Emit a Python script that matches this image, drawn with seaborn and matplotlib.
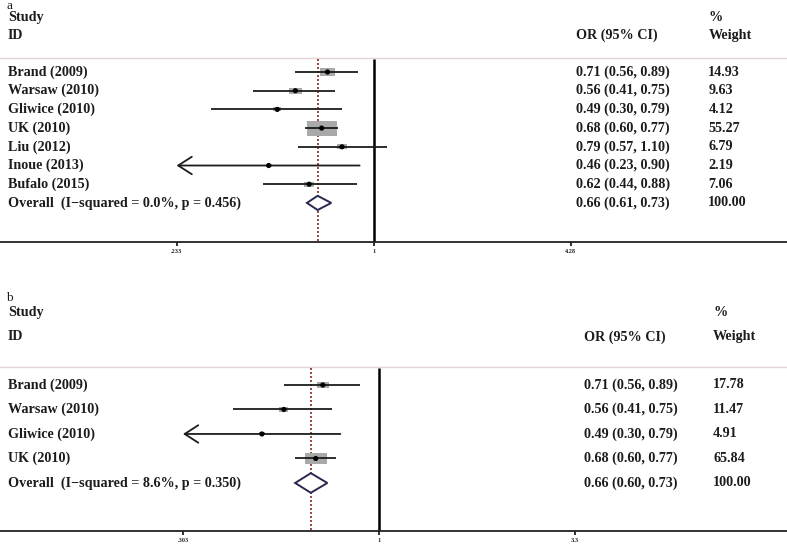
import numpy as np
import pandas as pd
import matplotlib
matplotlib.use("Agg")
import matplotlib.pyplot as plt
import seaborn as sns

sns.set_style("white")
plt.rcParams['font.family'] = ['Liberation Serif', 'DejaVu Serif']

# panel a data
studies_a = ['Brand (2009)', 'Warsaw (2010)', 'Gliwice (2010)', 'UK (2010)',
             'Liu (2012)', 'Inoue (2013)', 'Bufalo (2015)']
or_a = [0.71, 0.56, 0.49, 0.68, 0.79, 0.46, 0.62]
lo_a = [0.56, 0.41, 0.30, 0.60, 0.57, 0.23, 0.44]
hi_a = [0.89, 0.75, 0.79, 0.77, 1.10, 0.90, 0.88]
wt_a = [14.93, 9.63, 4.12, 55.27, 6.79, 2.19, 7.06]
overall_a = (0.66, 0.61, 0.73)
overall_label_a = 'Overall  (I\u2212squared = 0.0%, p = 0.456)'
ticks_a = [0.233, 1, 4.28]
ticklabels_a = ['.233', '1', '4.28']

# panel b data
studies_b = ['Brand (2009)', 'Warsaw (2010)', 'Gliwice (2010)', 'UK (2010)']
or_b = [0.71, 0.56, 0.49, 0.68]
lo_b = [0.56, 0.41, 0.30, 0.60]
hi_b = [0.89, 0.75, 0.79, 0.77]
wt_b = [17.78, 11.47, 4.91, 65.84]
overall_b = (0.66, 0.60, 0.73)
overall_label_b = 'Overall  (I\u2212squared = 8.6%, p = 0.350)'
ticks_b = [0.303, 1, 3.3]
ticklabels_b = ['.303', '1', '3.3']

INK = '#1c1c1c'
BOX = '#a9a9a9'
box_verts = [(-1, -0.5), (1, -0.5), (1, 0.5), (-1, 0.5), (-1, -0.5)]


def forest(ax, letter, studies, est, lo, hi, wt, overall, overall_label,
           ticks, ticklabels, xlim, ylim, head, box_k, diam_h, or_x, wt_x):
    n = len(studies)
    rows = np.arange(n)
    sep, y_letter, y_study, y_id = head
    ax.set_xscale('log')
    ax.set_xlim(*xlim)
    ax.set_ylim(*ylim)
    xmin = ticks[0]

    # weight boxes
    df = pd.DataFrame({'est': est, 'row': rows, 'w': wt})
    sns.scatterplot(data=df, x='est', y='row', size='w',
                    sizes=(box_k * min(wt), box_k * max(wt)),
                    marker=box_verts, color=BOX, edgecolor='none',
                    legend=False, ax=ax, zorder=2)
    # CI lines and arrows
    for r, l, h in zip(rows, lo, hi):
        if l < xmin:
            ax.annotate('', xy=(xmin, r), xytext=(h, r),
                        arrowprops=dict(arrowstyle='->,head_length=0.7,head_width=0.45',
                                        lw=1.3, color=INK, shrinkA=0, shrinkB=0,
                                        mutation_scale=14), zorder=3)
        else:
            ax.hlines(r, l, h, color=INK, lw=1.3, zorder=3)
    sns.scatterplot(x=est, y=rows, color='black', s=14, edgecolor='none',
                    ax=ax, zorder=4, legend=False)

    # overall diamond
    o, ol, oh = overall
    yo = n
    ax.fill([ol, o, oh, o, ol], [yo, yo - diam_h, yo, yo + diam_h, yo],
            facecolor='white', edgecolor='#2a2850', lw=1.4, zorder=4)

    # reference lines
    ax.vlines(1, sep + 0.05, ylim[0], color='black', lw=1.8, zorder=1)
    ax.vlines(o, sep + 0.05, ylim[0], color='#8a2a22', lw=1.2,
              linestyles=(0, (1.2, 1.2)), zorder=1)
    ax.axhline(sep, color='#e2d6d6', lw=1.0, zorder=0)

    # text columns
    tr = ax.get_yaxis_transform()
    bold = dict(fontweight='bold', fontsize=10.2, color=INK, va='center', transform=tr)
    ax.text(0.008, y_letter, letter, fontsize=9.5, color=INK, va='baseline', transform=tr)
    ax.text(0.010, y_study, 'Study', **bold)
    ax.text(0.010, y_id, 'ID', **bold)
    ax.text(or_x, y_id, 'OR (95% CI)', **bold)
    ax.text(wt_x, y_study, '%', **bold)
    ax.text(wt_x, y_id, 'Weight', **bold)
    for r, s, e, l, h, w in zip(rows, studies, est, lo, hi, wt):
        ax.text(0.010, r, s, **bold)
        ax.text(or_x, r, f'{e:.2f} ({l:.2f}, {h:.2f})', **bold)
        ax.text(wt_x, r, f'{w:.2f}', **bold)
    ax.text(0.010, yo, overall_label, **bold)
    ax.text(or_x, yo, f'{o:.2f} ({ol:.2f}, {oh:.2f})', **bold)
    ax.text(wt_x, yo, '100.00', **bold)

    # axis
    for side in ['left', 'right', 'top']:
        ax.spines[side].set_visible(False)
    ax.spines['bottom'].set_color('#222222')
    ax.spines['bottom'].set_linewidth(1.3)
    ax.set_yticks([])
    ax.set_xticks(ticks)
    ax.set_xticklabels(ticklabels, fontsize=4.5, fontweight='bold')
    ax.xaxis.set_minor_locator(matplotlib.ticker.NullLocator())
    ax.tick_params(axis='x', direction='out', length=3, width=1.3, pad=2,
                   color='#222222', bottom=True)
    ax.set_xlabel('')
    ax.set_ylabel('')


fig = plt.figure(figsize=(7.87, 5.44), dpi=100)
ax_a = fig.add_axes([0, 1 - 242 / 544, 1, 242 / 544])
ax_b = fig.add_axes([0, 1 - 531 / 544, 1, 246 / 544])

forest(ax_a, 'a', studies_a, or_a, lo_a, hi_a, wt_a, overall_a, overall_label_a,
       ticks_a, ticklabels_a, xlim=(0.0633, 21.1), ylim=(9.09, -3.85),
       head=(-0.75, -3.38, -2.93, -1.96), box_k=8.45, diam_h=0.38,
       or_x=0.732, wt_x=0.900)
forest(ax_b, 'b', studies_b, or_b, lo_b, hi_b, wt_b, overall_b, overall_label_b,
       ticks_b, ticklabels_b, xlim=(0.0994, 12.0), ylim=(5.96, -4.08),
       head=(-0.73, -3.42, -2.94, -1.96), box_k=3.81, diam_h=0.40,
       or_x=0.742, wt_x=0.906)

fig.savefig('out.png', dpi=100)
